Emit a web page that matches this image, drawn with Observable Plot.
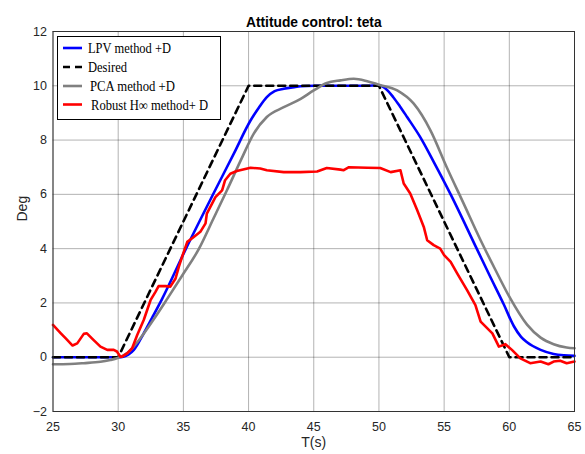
<!DOCTYPE html>
<html>
<head>
<meta charset="utf-8">
<script src="https://cdn.jsdelivr.net/npm/d3@7"></script>
<script src="https://cdn.jsdelivr.net/npm/@observablehq/plot@0.6"></script>
<style>
  body { margin: 0; background: #fff; }
  #wrap { position: relative; width: 585px; height: 454px; }
  #legend { position: absolute; left: 0; top: 0; pointer-events: none; }
</style>
</head>
<body>
<div id="wrap"></div>
<script>
const title = "Attitude control: teta";
const xLabel = "T(s)";
const yLabel = "Deg";
const xTicks = [25, 30, 35, 40, 45, 50, 55, 60, 65];
const yTicks = [-2, 0, 2, 4, 6, 8, 10, 12];
const seriesNames = ["LPV method +D", "Desired", "PCA method +D", "Robust H\u221E method+ D"];
const seriesColors = ["#0000ff", "#000000", "#808080", "#ff0000"];

const desiredT = [25, 30, 40, 50, 60, 65];
const desiredV = [0, 0, 10, 10, 0, 0];

const lpvT = [25, 29, 30, 30.4, 30.8, 31.2, 31.96, 32.6, 33.37, 35.2, 37.33, 38.87, 40.15, 40.8, 41.4, 42, 42.7, 43.5, 44, 45, 46, 47, 48, 49, 50, 50.5, 51.1, 51.6, 52.16, 53.18, 54.2, 55.5, 57.5, 58.5, 59.57, 60.34, 60.9, 61.36, 62.4, 63.4, 64.2, 65];
const lpvV = [0, 0, 0, 0.02, 0.1, 0.27, 0.88, 1.45, 2.15, 4.0, 6.05, 7.5, 8.72, 9.2, 9.58, 9.8, 9.89, 9.95, 9.98, 10, 10, 10, 10, 10, 10.02, 9.9, 9.58, 9.25, 8.85, 8.1, 7.2, 6.0, 4.0, 3.0, 1.95, 1.15, 0.75, 0.55, 0.27, 0.12, 0.07, 0.05];

const pcaT = [25, 26.3, 27.36, 28.64, 29.4, 29.9, 30.7, 31.7, 32.7, 33.76, 34.9, 36.2, 37.3, 38.36, 39.4, 40.4, 41.4, 42.7, 44, 45, 46, 47.05, 48.07, 49.1, 50, 51.4, 52.67, 53.95, 55.2, 56.5, 57.8, 58.9, 60.0, 61.36, 62.4, 63.4, 64.4, 65];
const pcaV = [-0.26, -0.25, -0.22, -0.17, -0.1, -0.04, 0.15, 0.7, 1.38, 2.15, 3.0, 4.0, 5.1, 6.17, 7.25, 8.24, 8.85, 9.21, 9.52, 9.83, 10.1, 10.2, 10.26, 10.17, 10.04, 9.83, 9.34, 8.36, 7.0, 5.66, 4.31, 3.25, 2.23, 1.2, 0.72, 0.48, 0.36, 0.33];

const robustT = [25, 25.6, 25.96, 26.5, 26.86, 27.36, 27.6, 28.1, 28.64, 29.16, 29.66, 29.9, 30.17, 30.3, 30.7, 31.07, 31.46, 31.96, 32.48, 32.86, 33.1, 33.63, 34.0, 34.4, 34.65, 34.9, 35.3, 35.8, 36.3, 36.7, 36.8, 37.2, 37.46, 37.97, 38.2, 38.6, 39.1, 40.15, 40.9, 41.4, 42.7, 43.98, 45.26, 46.0, 47.05, 47.3, 47.7, 49.1, 50.1, 50.9, 51.65, 51.9, 52.4, 52.93, 53.44, 53.7, 54.2, 54.7, 55.0, 55.5, 56.0, 56.76, 57.4, 57.8, 58.7, 59.2, 59.7, 60.2, 60.85, 61.6, 62.4, 63.0, 63.4, 63.9, 64.4, 65];
const robustV = [1.19, 0.88, 0.7, 0.43, 0.51, 0.86, 0.88, 0.64, 0.39, 0.27, 0.27, 0.21, 0.02, 0.02, 0.15, 0.33, 0.82, 1.37, 2.1, 2.41, 2.62, 2.62, 2.6, 2.9, 3.33, 3.7, 4.25, 4.43, 4.62, 4.93, 5.29, 5.66, 5.9, 6.15, 6.52, 6.76, 6.86, 6.98, 6.95, 6.89, 6.82, 6.82, 6.84, 6.97, 6.91, 6.89, 7.0, 6.98, 6.97, 6.82, 6.89, 6.4, 6.03, 5.42, 4.8, 4.31, 4.13, 4.0, 3.76, 3.51, 3.09, 2.47, 1.92, 1.31, 0.88, 0.39, 0.48, 0.27, -0.04, -0.22, -0.16, -0.26, -0.16, -0.13, -0.22, -0.16];

const toRows = (T, V) => T.map((t, i) => ({t, v: V[i]}));
const desired = toRows(desiredT, desiredV);
const lpv = toRows(lpvT, lpvV);
const pca = toRows(pcaT, pcaV);
const robust = toRows(robustT, robustV);

const mL = 52.5, mT = 31, mR = 11, mB = 43;

const chart = Plot.plot({
  width: 585,
  height: 454,
  marginTop: mT,
  marginLeft: mL,
  marginRight: mR,
  marginBottom: mB,
  style: {fontFamily: "'Liberation Sans', Arial, sans-serif", fontSize: "12px", color: "#262626", background: "#fff", overflow: "visible"},
  x: {domain: [25, 65]},
  y: {domain: [-2, 12]},
  marks: [
    Plot.gridX(xTicks, {stroke: "#000", strokeOpacity: 0.3, strokeWidth: 1}),
    Plot.gridY(yTicks, {stroke: "#000", strokeOpacity: 0.3, strokeWidth: 1}),
    Plot.axisX(xTicks, {tickSize: 0, tickPadding: 11, label: null, fontSize: 12.5, fill: "#262626"}),
    Plot.axisY(yTicks, {tickSize: 0, tickPadding: 6, label: null, fontSize: 12.5, fill: "#262626"}),
    Plot.text([xLabel], {frameAnchor: "bottom", dy: 35, fontSize: 14, fill: "#262626"}),
    Plot.text([yLabel], {frameAnchor: "left", dx: -30, rotate: -90, fontSize: 14, fill: "#262626"}),
    Plot.text([title], {frameAnchor: "top", dy: -14, fontSize: 13.8, fontWeight: "bold", fill: "#000"}),
    Plot.line(lpv, {x: "t", y: "v", stroke: seriesColors[0], strokeWidth: 2.6, curve: "monotone-x"}),
    Plot.line(desired, {x: "t", y: "v", stroke: seriesColors[1], strokeWidth: 2.6, strokeDasharray: "7,5"}),
    Plot.line(pca, {x: "t", y: "v", stroke: seriesColors[2], strokeWidth: 2.6, curve: "monotone-x"}),
    Plot.line(robust, {x: "t", y: "v", stroke: seriesColors[3], strokeWidth: 2.6}),
    Plot.frame({stroke: "#333", strokeWidth: 1})
  ]
});

const wrap = document.getElementById("wrap");
wrap.appendChild(chart);

// Legend overlay
const ns = "http://www.w3.org/2000/svg";
const lg = document.createElementNS(ns, "svg");
lg.setAttribute("id", "legend");
lg.setAttribute("width", 585);
lg.setAttribute("height", 454);
const box = document.createElementNS(ns, "rect");
box.setAttribute("x", 57.5); box.setAttribute("y", 36.5);
box.setAttribute("width", 163); box.setAttribute("height", 83);
box.setAttribute("fill", "#fff"); box.setAttribute("stroke", "#000"); box.setAttribute("stroke-width", 1);
lg.appendChild(box);
const rowsY = [48, 67, 86, 104.5];
const textX = [88, 88, 90, 91];
const textW = [83, 39, 85, 117];
seriesNames.forEach((name, i) => {
  const ln = document.createElementNS(ns, "line");
  ln.setAttribute("x1", 63); ln.setAttribute("x2", i === 1 ? 86 : 82);
  ln.setAttribute("y1", rowsY[i]); ln.setAttribute("y2", rowsY[i]);
  ln.setAttribute("stroke", seriesColors[i]);
  ln.setAttribute("stroke-width", 2.6);
  if (i === 1) ln.setAttribute("stroke-dasharray", "7,5");
  lg.appendChild(ln);
  const tx = document.createElementNS(ns, "text");
  tx.setAttribute("x", textX[i]); tx.setAttribute("y", rowsY[i] + 5);
  tx.setAttribute("font-family", "'Liberation Serif', 'Times New Roman', serif");
  tx.setAttribute("font-size", 14);
  tx.setAttribute("textLength", textW[i]);
  tx.setAttribute("lengthAdjust", "spacingAndGlyphs");
  tx.setAttribute("fill", "#000");
  tx.textContent = name;
  lg.appendChild(tx);
});
wrap.appendChild(lg);
</script>
</body>
</html>
